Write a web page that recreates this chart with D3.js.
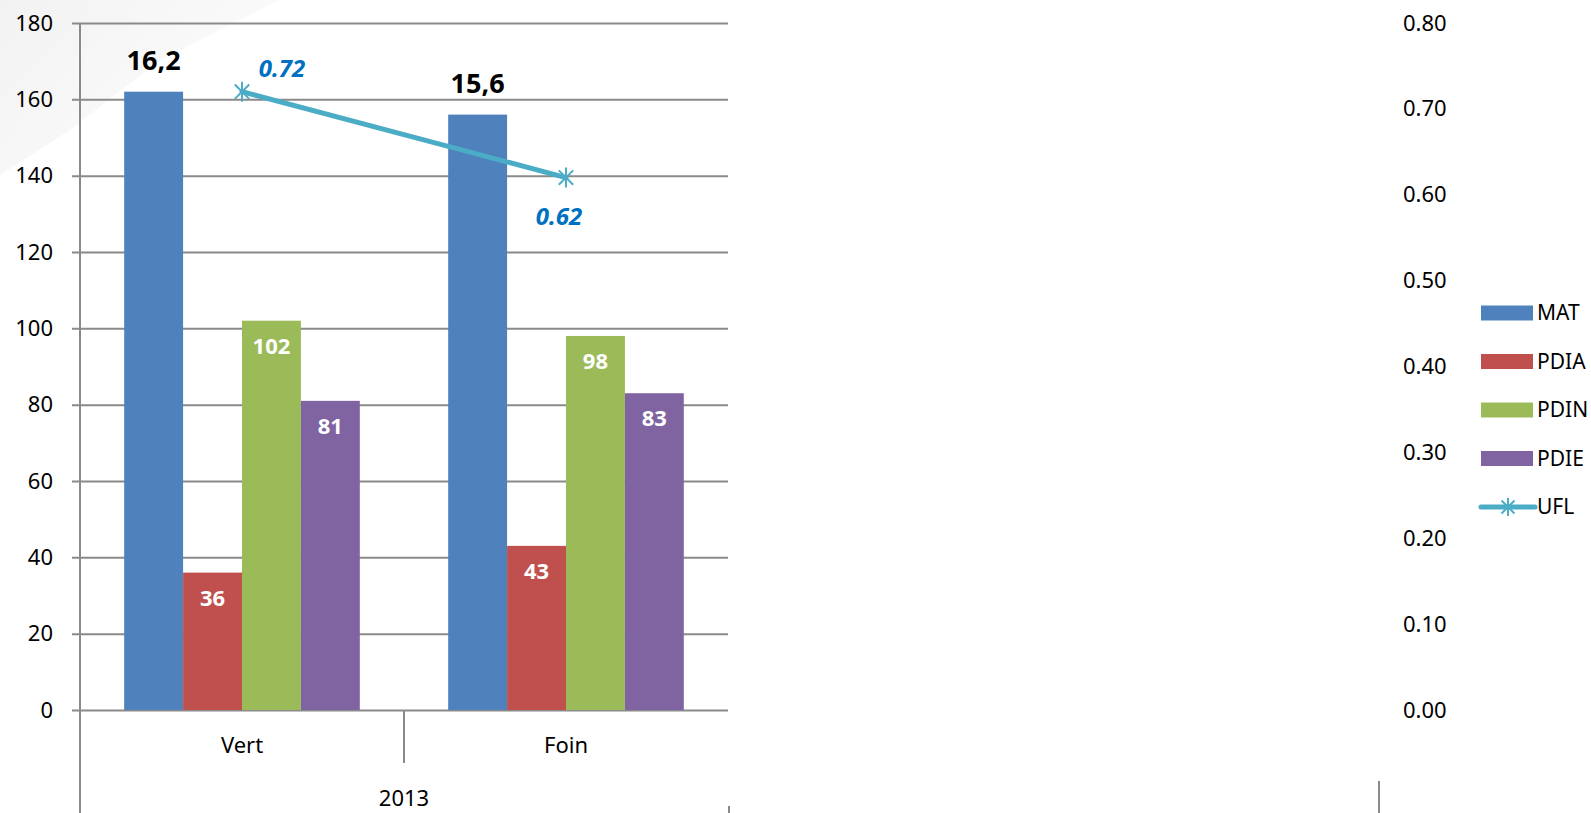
<!DOCTYPE html>
<html>
<head>
<meta charset="utf-8">
<script src="https://cdn.jsdelivr.net/npm/d3@7"></script>
<style>
  html, body { margin: 0; padding: 0; background: #fff; overflow: hidden; }
  svg { display: block; font-family: "Noto Sans", "Open Sans", sans-serif; }
</style>
</head>
<body>
<svg id="chart" width="1591" height="813"></svg>
<script>
// categories and series
var categories = ["Vert", "Foin"];
var groupLabel = "2013";
var series = ["MAT", "PDIA", "PDIN", "PDIE"];
var colors = ["#4F81BD", "#C0504D", "#9BBB59", "#8064A2"];

// g/kg values per series, one per category
var matValues = [162, 156];
var pdiaValues = [36, 43];
var pdinValues = [102, 98];
var pdieValues = [81, 83];
// MAT is labelled in percent
var matLabels = ["16,2", "15,6"];

// UFL on the right axis
var uflValues = [0.72, 0.62];
var uflLabels = ["0.72", "0.62"];

var leftTicks = [0, 20, 40, 60, 80, 100, 120, 140, 160, 180];
var rightTicks = [0, 0.1, 0.2, 0.3, 0.4, 0.5, 0.6, 0.7, 0.8];

var seriesValues = [matValues, pdiaValues, pdinValues, pdieValues];

var svg = d3.select("#chart");

// faint watermark in the corner
var defs = svg.append("defs");
var grad = defs.append("linearGradient").attr("id", "wm")
	.attr("x1", "0%").attr("y1", "0%").attr("x2", "100%").attr("y2", "60%");
grad.append("stop").attr("offset", "0%").attr("stop-color", "#f2f2f2");
grad.append("stop").attr("offset", "100%").attr("stop-color", "#fdfdfd");
svg.append("path")
	.attr("d", "M0,0 L280,0 L160,60 L70,130 L0,175 Z")
	.style("fill", "url(#wm)");

var x = d3.scaleBand().domain(categories).range([80, 728]).padding(0);
var xInner = d3.scaleBand().domain(series).range([0, x.bandwidth()])
	.paddingInner(0).paddingOuter(0.75);
var y = d3.scaleLinear().domain([0, 180]).range([710, 23]);
var y2 = d3.scaleLinear().domain([0, 0.8]).range([710, 23]);

// gridlines + left labels
var leftAxis = svg.append("g")
	.attr("transform", "translate(728,0)")
	.call(d3.axisLeft(y).tickValues(leftTicks).tickSize(656).tickPadding(19).tickFormat(d3.format("d")));
leftAxis.select(".domain").remove();
leftAxis.selectAll("line").style("stroke", "#8a8a8a").style("stroke-width", 2);
leftAxis.selectAll("text").style("font-size", "22px").style("fill", "#000")
	.style("font-family", "'Noto Sans', sans-serif");

// right labels
var rightAxis = svg.append("g")
	.attr("transform", "translate(1403,0)")
	.call(d3.axisRight(y2).tickValues(rightTicks).tickSize(0).tickPadding(0).tickFormat(d3.format(".2f")));
rightAxis.select(".domain").remove();
rightAxis.selectAll("text").style("font-size", "22px").style("fill", "#000")
	.style("font-family", "'Noto Sans', sans-serif");

// bars
var barData = [];
series.forEach(function(s, i){
	categories.forEach(function(c, j){
		barData.push({ series: s, cat: c, value: seriesValues[i][j], color: colors[i], idx: i, j: j });
	});
});

svg.append("g").selectAll("rect")
	.data(barData)
	.enter()
	.append("rect")
	.attr("x", function(d){ return x(d.cat) + xInner(d.series); })
	.attr("y", function(d){ return y(d.value); })
	.attr("width", xInner.bandwidth())
	.attr("height", function(d){ return y(0) - y(d.value); })
	.style("fill", function(d){ return d.color; });

// value labels inside bars (all but MAT)
svg.append("g").selectAll("text")
	.data(barData.filter(function(d){ return d.idx > 0; }))
	.enter()
	.append("text")
	.attr("x", function(d){ return x(d.cat) + xInner(d.series) + xInner.bandwidth() / 2; })
	.attr("y", function(d){ return y(d.value) + 33; })
	.attr("text-anchor", "middle")
	.style("font-size", "22px")
	.style("font-weight", "bold")
	.style("fill", "#fff")
	.text(function(d){ return d.value; });

// MAT labels above
svg.append("g").selectAll("text")
	.data(categories)
	.enter()
	.append("text")
	.attr("x", function(c){ return x(c) + xInner("MAT") + xInner.bandwidth() / 2; })
	.attr("y", function(c, j){ return y(matValues[j]) - 22; })
	.attr("text-anchor", "middle")
	.style("font-size", "27px")
	.style("font-weight", "bold")
	.style("fill", "#000")
	.text(function(c, j){ return matLabels[j]; });

// axis line, category dividers
var axisG = svg.append("g").style("stroke", "#8a8a8a").style("stroke-width", 2);
axisG.append("line").attr("x1", 80).attr("x2", 80).attr("y1", y(180)).attr("y2", 813);
axisG.append("line").attr("x1", x("Foin")).attr("x2", x("Foin")).attr("y1", y(0)).attr("y2", 763);
axisG.append("line").attr("x1", 729).attr("x2", 729).attr("y1", 806).attr("y2", 813);
axisG.append("line").attr("x1", 1379).attr("x2", 1379).attr("y1", 781).attr("y2", 813);

// category labels
var catAxis = svg.append("g")
	.attr("transform", "translate(0," + y(0) + ")")
	.call(d3.axisBottom(x).tickSize(0).tickPadding(27));
catAxis.select(".domain").remove();
catAxis.selectAll("text").style("font-size", "22px").style("fill", "#000")
	.style("font-family", "'Noto Sans', sans-serif");

svg.append("text")
	.attr("x", (x.range()[0] + x.range()[1]) / 2)
	.attr("y", 806)
	.attr("text-anchor", "middle")
	.style("font-size", "22px")
	.text(groupLabel);

// UFL line
var uflColor = "#4BACC6";
var line = d3.line()
	.x(function(d, j){ return x(categories[j]) + x.bandwidth() / 2; })
	.y(function(d){ return y2(d); });

svg.append("path")
	.datum(uflValues)
	.attr("d", line)
	.style("fill", "none")
	.style("stroke", uflColor)
	.style("stroke-width", 5)
	.style("stroke-linecap", "round");

function starPath(cx, cy, r){
	var k = r * 0.72;
	return "M" + cx + "," + (cy - r) + "L" + cx + "," + (cy + r) +
		"M" + (cx - k) + "," + (cy - k) + "L" + (cx + k) + "," + (cy + k) +
		"M" + (cx - k) + "," + (cy + k) + "L" + (cx + k) + "," + (cy - k);
}

svg.append("g").selectAll("path")
	.data(uflValues)
	.enter()
	.append("path")
	.attr("d", function(d, j){ return starPath(x(categories[j]) + x.bandwidth() / 2, y2(d), 10); })
	.style("fill", "none")
	.style("stroke", uflColor)
	.style("stroke-width", 2);

// UFL labels: first sits above right, second below
var uflLabelOffsets = [[40, -15], [-7, 47]];
svg.append("g").selectAll("text")
	.data(uflValues)
	.enter()
	.append("text")
	.attr("x", function(d, j){ return x(categories[j]) + x.bandwidth() / 2 + uflLabelOffsets[j][0]; })
	.attr("y", function(d, j){ return y2(d) + uflLabelOffsets[j][1]; })
	.attr("text-anchor", "middle")
	.style("font-size", "24px")
	.style("font-weight", "bold")
	.style("font-style", "italic")
	.style("fill", "#0070C0")
	.text(function(d, j){ return uflLabels[j]; });

// legend
var legendItems = series.concat(["UFL"]);
var legend = svg.append("g").attr("transform", "translate(1481,313)");
var rows = legend.selectAll("g")
	.data(legendItems)
	.enter()
	.append("g")
	.attr("transform", function(d, i){ return "translate(0," + (i * 48.5) + ")"; });

rows.filter(function(d, i){ return i < 4; })
	.append("rect")
	.attr("x", 0).attr("y", -7.5)
	.attr("width", 52).attr("height", 15)
	.style("fill", function(d, i){ return colors[i]; });

var uflRow = rows.filter(function(d){ return d === "UFL"; });
uflRow.append("line")
	.attr("x1", 0).attr("x2", 54).attr("y1", 0).attr("y2", 0)
	.style("stroke", uflColor).style("stroke-width", 5).style("stroke-linecap", "round");
uflRow.append("path")
	.attr("d", starPath(27, 0, 9))
	.style("fill", "none").style("stroke", uflColor).style("stroke-width", 2);

rows.append("text")
	.attr("x", 56)
	.attr("y", 0)
	.attr("dy", "0.35em")
	.style("font-size", "21px")
	.text(function(d){ return d; });
</script>
</body>
</html>
